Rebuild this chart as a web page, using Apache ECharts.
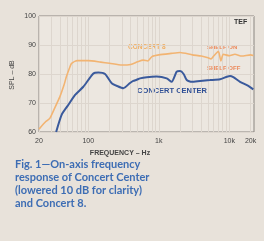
<!DOCTYPE html>
<html><head><meta charset="utf-8">
<script src="https://cdn.jsdelivr.net/npm/echarts@6/dist/echarts.min.js"></script>
<style>html,body{margin:0;padding:0;background:#e8e2da;}#c{width:264px;height:241px;}</style>
</head><body><div id="c"></div>
<script>
const xTickValues = [20, 100, 1000, 10000, 20000];
const xTickLabels = ['20', '100', '1k', '10k', '20k'];
const yTicks = [60, 70, 80, 90, 100];
const gridFreqs = [20,30,40,50,60,70,80,90,100,200,300,400,500,600,700,800,900,1000,2000,3000,4000,5000,6000,7000,8000,9000,10000,20000];

const concert8Freq = [20, 25, 28.6, 33, 39.6, 45, 49, 55, 58, 70, 100, 150, 200, 300, 400, 500, 600, 700, 800, 1000, 1500, 2000, 3000, 4000, 5000, 5500, 6000, 7000, 7600, 8200, 10000, 12000, 15000, 20000, 22000];
const concert8SPL  = [61, 63.6, 64.8, 68, 72.2, 76, 79.1, 82.5, 83.7, 84.6, 84.6, 84.1, 83.7, 83.1, 83.3, 84.2, 84.8, 84.5, 86, 86.6, 87.1, 87.4, 86.6, 86.2, 85.6, 85.2, 86.2, 87.8, 84.5, 86.8, 86.3, 86.8, 86.2, 86.6, 86.4];

const centerFreq = [35, 42, 52, 65, 85, 118, 139, 173, 215, 260, 314, 391, 435, 486, 542, 675, 933, 1294, 1524, 1794, 2000, 2250, 2488, 2930, 3850, 5330, 7390, 10200, 11400, 14200, 18600, 21900];
const centerSPL  = [60, 66, 69.3, 72.8, 75.6, 80.2, 80.5, 80, 76.8, 75.8, 75.1, 76.9, 77.6, 78, 78.5, 78.9, 79.1, 78.5, 77.3, 80.8, 81, 80, 77.9, 77.3, 77.6, 77.9, 78.2, 79.3, 78.9, 77.3, 75.9, 74.7];

const pair = (f, v) => f.map((x, i) => [x, v[i]]);
const chart = echarts.init(document.getElementById('c'), null, {renderer: 'canvas'});
const font = 'Liberation Sans, Arial, sans-serif';
chart.setOption({
  backgroundColor: '#e8e2da',
  animation: false,
  grid: {left: 39, top: 16, width: 215, height: 116, show: true, backgroundColor: '#ece7e0', borderColor: '#8a8580', borderWidth: 1},
  xAxis: {
    type: 'log', logBase: 10, min: 20, max: 22400,
    axisLine: {show: false},
    axisTick: {show: false, customValues: gridFreqs},
    splitLine: {show: true, lineStyle: {color: '#ddd6ce', width: 1}},
    axisLabel: {customValues: xTickValues, fontSize: 7, color: '#444', fontFamily: font, margin: 6,
      formatter: v => { const i = xTickValues.findIndex(t => Math.abs(t - v) / t < 0.01); return i >= 0 ? xTickLabels[i] : ''; }}
  },
  yAxis: {
    type: 'value', min: 60, max: 100, interval: 10,
    axisLine: {show: false}, axisTick: {show: false},
    splitLine: {show: true, lineStyle: {color: '#ddd6ce'}},
    axisLabel: {fontSize: 7, color: '#444', fontFamily: font, margin: 3}
  },
  series: [
    {type: 'line', data: pair(concert8Freq, concert8SPL), symbol: 'none', smooth: 0.2,
     lineStyle: {color: '#f2b472', width: 1.6}},
    {type: 'line', data: pair(centerFreq, centerSPL), symbol: 'none', smooth: 0.2,
     lineStyle: {color: '#3a5a9c', width: 2}}
  ],
  graphic: [
    {type: 'text', left: 234, top: 19, style: {text: 'TEF', fontSize: 7, fontWeight: 'bold', fill: '#333', fontFamily: font}},
    {type: 'text', left: 128, top: 44, style: {text: 'CONCERT 8', fontSize: 6.5, fontWeight: 'bold', fill: '#f0ae62', fontFamily: font}},
    {type: 'text', left: 207, top: 44, style: {text: 'SHELF ON', fontSize: 6, fontWeight: 'bold', fill: '#ec8a5c', fontFamily: font}},
    {type: 'text', left: 207, top: 65, style: {text: 'SHELF OFF', fontSize: 6, fontWeight: 'bold', fill: '#ec8a5c', fontFamily: font}},
    {type: 'text', left: 137, top: 87, style: {text: 'CONCERT CENTER', fontSize: 7.5, fontWeight: 'bold', fill: '#2f4f95', fontFamily: font}},
    {type: 'text', x: 12, y: 75, rotation: Math.PI / 2, style: {text: 'SPL – dB', fontSize: 7, fill: '#444', fontFamily: font, align: 'center', verticalAlign: 'middle'}},
    {type: 'text', x: 120, y: 153, style: {text: 'FREQUENCY – Hz', fontSize: 7, fontWeight: 'bold', fill: '#444', fontFamily: font, align: 'center', verticalAlign: 'middle'}},
    {type: 'text', left: 15, top: 158, style: {text: 'Fig. 1—On-axis frequency\nresponse of Concert Center\n(lowered 10 dB for clarity)\nand Concert 8.', fontSize: 11, lineHeight: 13, fontWeight: 'bold', fill: '#3d6db4', fontFamily: 'Lato, sans-serif'}}
  ]
});
</script></body></html>
